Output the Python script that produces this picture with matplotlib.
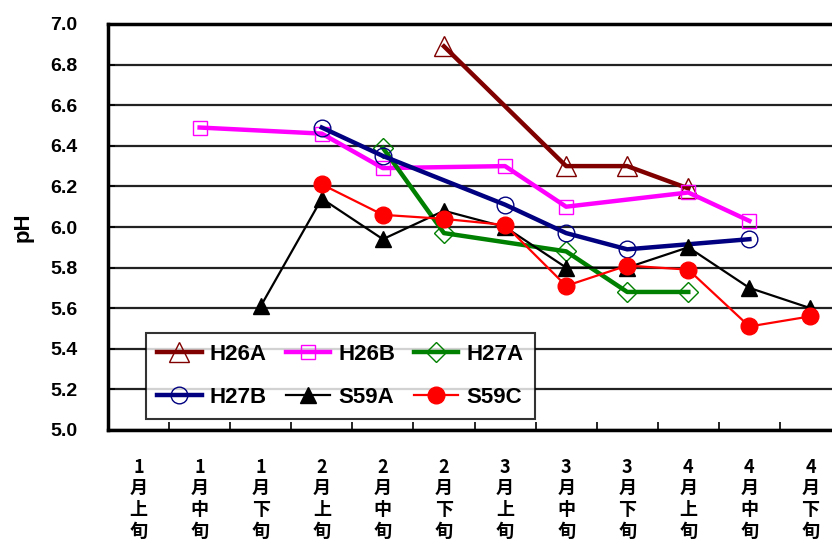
import numpy as np
import matplotlib.pyplot as plt

plt.rcParams['font.family'] = ['Liberation Sans', 'Noto Sans CJK JP', 'DejaVu Sans']

# categories (1月上旬 ... 4月下旬)
months = ['1', '1', '1', '2', '2', '2', '3', '3', '3', '4', '4', '4']
parts = ['上', '中', '下'] * 4
tick_labels = [m + '\n月\n' + p + '\n旬' for m, p in zip(months, parts)]

nan = np.nan
h26a = [nan, nan, nan, nan, nan, 6.89, nan, 6.30, 6.30, 6.19, nan, nan]
h26b = [nan, 6.49, nan, 6.46, 6.29, nan, 6.30, 6.10, nan, 6.17, 6.03, nan]
h27a = [nan, nan, nan, nan, 6.39, 5.97, nan, 5.88, 5.68, 5.68, nan, nan]
h27b = [nan, nan, nan, 6.49, 6.35, nan, 6.11, 5.97, 5.89, nan, 5.94, nan]
s59a = [nan, nan, 5.61, 6.14, 5.94, 6.08, 6.00, 5.80, 5.80, 5.90, 5.70, 5.60]
s59c = [nan, nan, nan, 6.21, 6.06, 6.04, 6.01, 5.71, 5.81, 5.79, 5.51, 5.56]

series = [
    ('H26A', h26a, '#800000', 3.2, '^', 'none', 14),
    ('H26B', h26b, '#ff00ff', 3.2, 's', 'none', 10.5),
    ('H27A', h27a, '#008000', 3.2, 'D', 'none', 10),
    ('H27B', h27b, '#000080', 3.2, 'o', 'none', 12),
    ('S59A', s59a, '#000000', 1.6, '^', '#000000', 12),
    ('S59C', s59c, '#ff0000', 1.6, 'o', '#ff0000', 12),
]

fig = plt.figure(figsize=(8.32, 5.49), dpi=100)
ax = fig.add_axes([108 / 832, 1 - 430 / 549, 733 / 832, 406 / 549])

x = np.arange(len(tick_labels))
lines = {}
for name, vals, col, lw, mk, fc, ms in series:
    v = np.array(vals, dtype=float)
    ok = ~np.isnan(v)
    ln, = ax.plot(x[ok], v[ok], color=col, lw=lw, marker=mk, markersize=ms,
                  markerfacecolor=fc, markeredgecolor=col, markeredgewidth=1.0,
                  label=name, zorder=3)
    lines[name] = ln

ax.set_xlim(-0.5, 11.5)
ax.set_ylim(5.0, 7.0)
ax.set_yticks(np.arange(5.0, 7.01, 0.2))
ax.set_yticklabels(['%.1f' % t for t in np.arange(5.0, 7.01, 0.2)],
                   fontsize=14, fontweight='bold')
ax.grid(axis='y', color='#222222', lw=1.6)
ax.set_axisbelow(True)

ax.set_xticks(x)
ax.set_xticklabels(tick_labels, fontsize=13, fontweight='bold',
                   family=['Noto Sans CJK JP'], linespacing=1.15)
ax.set_xticks(np.arange(0.5, 11.5, 1), minor=True)
ax.tick_params(axis='x', which='major', length=0, pad=20)
ax.tick_params(axis='x', which='minor', direction='in', length=6, width=1.2)
ax.tick_params(axis='y', direction='in', length=5, width=1.2, pad=22)

for s in ['left', 'top', 'bottom', 'right']:
    ax.spines[s].set_linewidth(2.5)
    ax.spines[s].set_color('black')

ax.set_ylabel('pH', fontsize=16, fontweight='bold', labelpad=12)

# row-wise order: H26A H26B H27A / H27B S59A S59C
order = ['H26A', 'H27B', 'H26B', 'S59A', 'H27A', 'S59C']
leg = ax.legend([lines[n] for n in order], order,
                loc='lower left', bbox_to_anchor=(38 / 733, 11 / 406), ncol=3,
                frameon=True, fancybox=False, edgecolor='black',
                prop={'size': 16, 'weight': 'bold'}, handlelength=2.0,
                columnspacing=0.85, handletextpad=0.36, borderpad=0.5,
                labelspacing=1.0, borderaxespad=0)
leg.get_frame().set_linewidth(1.5)

fig.savefig('out.png', dpi=100)
